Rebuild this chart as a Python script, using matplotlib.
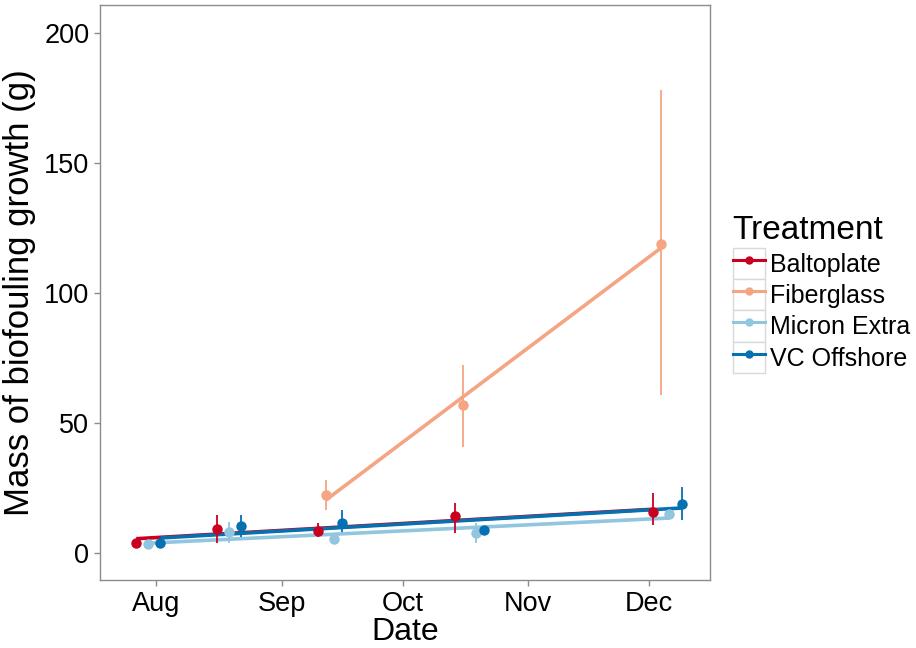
import matplotlib
matplotlib.use("Agg")
import matplotlib.pyplot as plt
import matplotlib.dates as mdates
import numpy as np
import pandas as pd
from matplotlib.lines import Line2D
from matplotlib.patches import Rectangle
from matplotlib.legend_handler import HandlerLine2D

plt.rcParams["font.family"] = ["Liberation Sans", "DejaVu Sans"]

treatments = ["Baltoplate", "Fiberglass", "Micron Extra", "VC Offshore"]
colors = ["#CA0020", "#F4A582", "#92C5DE", "#0571B0"]

# sampling dates (slightly dodged per treatment) and mean mass with error bar limits
balto_dates = ["2015-07-27", "2015-08-16", "2015-09-10", "2015-10-14", "2015-12-02"]
balto_mean = [3.8, 9.2, 8.5, 14.2, 15.8]
balto_lo = [3.2, 3.8, 6.2, 7.7, 10.8]
balto_hi = [4.4, 14.6, 11.5, 19.2, 23.0]

fiber_dates = ["2015-09-12", "2015-10-16", "2015-12-04"]
fiber_mean = [22.3, 57.0, 118.8]
fiber_lo = [16.5, 40.8, 60.8]
fiber_hi = [28.0, 72.3, 178.0]

micron_dates = ["2015-07-30", "2015-08-19", "2015-09-14", "2015-10-19", "2015-12-06"]
micron_mean = [3.4, 8.0, 5.4, 7.7, 15.0]
micron_lo = [2.8, 3.8, 3.6, 3.8, 14.2]
micron_hi = [4.0, 12.0, 7.2, 11.5, 15.8]

vc_dates = ["2015-08-02", "2015-08-22", "2015-09-16", "2015-10-21", "2015-12-09"]
vc_mean = [3.8, 10.4, 11.5, 8.8, 18.8]
vc_lo = [3.2, 6.0, 8.0, 7.0, 12.7]
vc_hi = [4.4, 14.6, 16.5, 10.0, 25.4]

series = [
    (balto_dates, balto_mean, balto_lo, balto_hi),
    (fiber_dates, fiber_mean, fiber_lo, fiber_hi),
    (micron_dates, micron_mean, micron_lo, micron_hi),
    (vc_dates, vc_mean, vc_lo, vc_hi),
]

fig = plt.figure(figsize=(9.16, 6.48), dpi=100)
ax = fig.add_axes([0.109, 0.105, 0.666, 0.887])

# linear trend per treatment
for (dates, mean, lo, hi), col in zip(series, colors):
    x = mdates.date2num(pd.to_datetime(dates))
    slope, icpt = np.polyfit(x, mean, 1)
    xs = np.array([x.min(), x.max()])
    ax.plot(xs, icpt + slope * xs, color=col, lw=2.6, solid_capstyle="butt", zorder=2)

# means with error bars
for (dates, mean, lo, hi), col in zip(series, colors):
    x = mdates.date2num(pd.to_datetime(dates))
    m = np.array(mean)
    yerr = [m - np.array(lo), np.array(hi) - m]
    ax.errorbar(x, m, yerr=yerr, fmt="o", color=col, ms=6.5, elinewidth=1.3,
                capsize=0, zorder=3)

ax.set_xlim(mdates.date2num(pd.Timestamp("2015-07-18")), mdates.date2num(pd.Timestamp("2015-12-16")))
ax.set_ylim(-10.4, 210.8)
ax.set_yticks([0, 50, 100, 150, 200])
ax.xaxis.set_major_locator(mdates.MonthLocator())
ax.xaxis.set_major_formatter(mdates.DateFormatter("%b"))

for s in ax.spines.values():
    s.set_color("#8c8c8c")
    s.set_linewidth(1.0)
ax.tick_params(axis="both", colors="#8c8c8c", labelcolor="black", labelsize=19.5,
               length=4, width=1.0)
ax.tick_params(axis="x", pad=4)
ax.set_xlabel("Date", fontsize=23, labelpad=0)
ax.set_ylabel("Mass of biofouling growth (g)", fontsize=25, labelpad=6)


class BoxedKey(HandlerLine2D):
    def create_artists(self, legend, orig_handle, xdescent, ydescent, width,
                       height, fontsize, trans):
        box = Rectangle((-xdescent, -ydescent), width, height, facecolor="white",
                        edgecolor="#d9d9d9", lw=1.0, transform=trans)
        arts = super().create_artists(legend, orig_handle, xdescent, ydescent,
                                      width, height, fontsize, trans)
        return [box] + arts


handles = [Line2D([], [], color=c, lw=2.2, marker="o", ms=5) for c in colors]
leg = fig.legend(handles, treatments, loc="upper left", bbox_to_anchor=(0.789, 0.683),
                 frameon=False, fontsize=18, title="Treatment", title_fontsize=24,
                 handlelength=1.3, handleheight=1.55, labelspacing=0.0,
                 handletextpad=0.2, borderaxespad=0, numpoints=1,
                 handler_map={Line2D: BoxedKey(numpoints=1)})
leg._legend_box.align = "left"
leg._legend_box.sep = 1

fig.savefig("out.png", dpi=100)
